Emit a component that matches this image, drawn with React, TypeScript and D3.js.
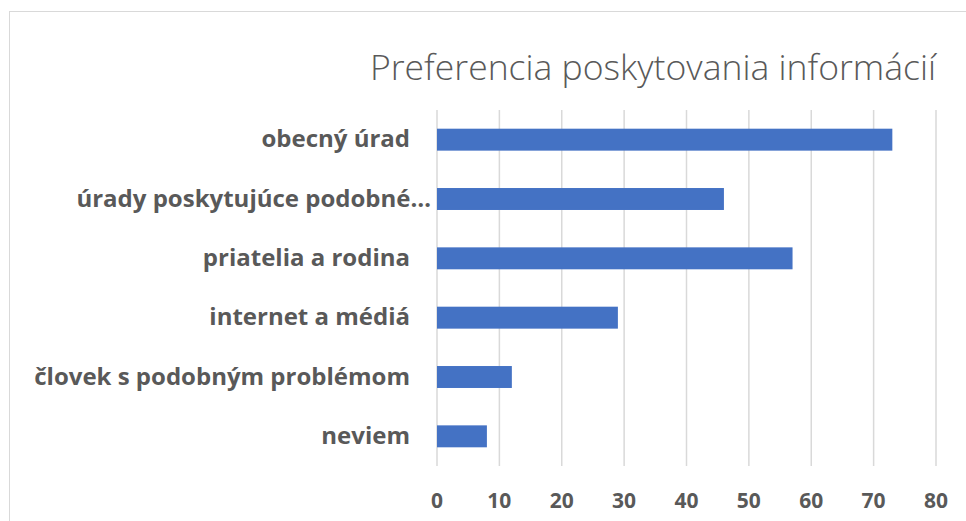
import React from "react";
import * as d3 from "d3";

const categories = [
  "obecný úrad",
  "úrady poskytujúce podobné…",
  "priatelia a rodina",
  "internet a médiá",
  "človek s podobným problémom",
  "neviem",
];
const values = [73, 46, 57, 29, 12, 8];
const ticks = [0, 10, 20, 30, 40, 50, 60, 70, 80];
const title = "Preferencia poskytovania informácií";

const W = 966;
const H = 521;
const plotLeft = 437;
const plotRight = 936;
const plotTop = 110;
const plotBottom = 466;

export default function App() {
  const x = d3.scaleLinear().domain([0, 80]).range([plotLeft, plotRight]);
  const y = d3
    .scaleBand<string>()
    .domain(categories)
    .range([plotTop, plotBottom])
    .paddingInner(0.63)
    .paddingOuter(0.315);
  const font = "'Open Sans', 'Noto Sans', sans-serif";
  return (
    <svg
      width={W}
      height={H}
      style={{ position: "absolute", left: 0, top: 0, display: "block", background: "#fff" }}
    >
      <rect x={9.5} y={11.5} width={W + 10} height={H + 10} fill="#fff" stroke="#d9d9d9" strokeWidth={1} />
      <text
        x={370}
        y={80}
        textAnchor="start"
        fontFamily={font}
        fontSize={34}
        fontWeight={300}
        fill="#595959"
        textLength={566}
        lengthAdjust="spacingAndGlyphs"
      >
        {title}
      </text>
      {ticks.map((t) => (
        <g key={t}>
          <line x1={x(t)} x2={x(t)} y1={plotTop} y2={plotBottom} stroke="#d9d9d9" strokeWidth={1.5} />
          <text
            x={x(t)}
            y={508}
            textAnchor="middle"
            fontFamily={font}
            fontSize={21}
            fontWeight={700}
            fill="#595959"
          >
            {t}
          </text>
        </g>
      ))}
      {categories.map((c, i) => (
        <g key={c}>
          <rect
            x={x(0)}
            y={y(c)!}
            width={x(values[i]) - x(0)}
            height={y.bandwidth()}
            fill="#4472c4"
          />
          <text
            x={c.endsWith("…") ? 431 : 410}
            y={y(c)! + y.bandwidth() / 2}
            dy="0.32em"
            textAnchor="end"
            fontFamily={font}
            fontSize={24}
            fontWeight={700}
            fill="#595959"
          >
            {c}
          </text>
        </g>
      ))}
    </svg>
  );
}
